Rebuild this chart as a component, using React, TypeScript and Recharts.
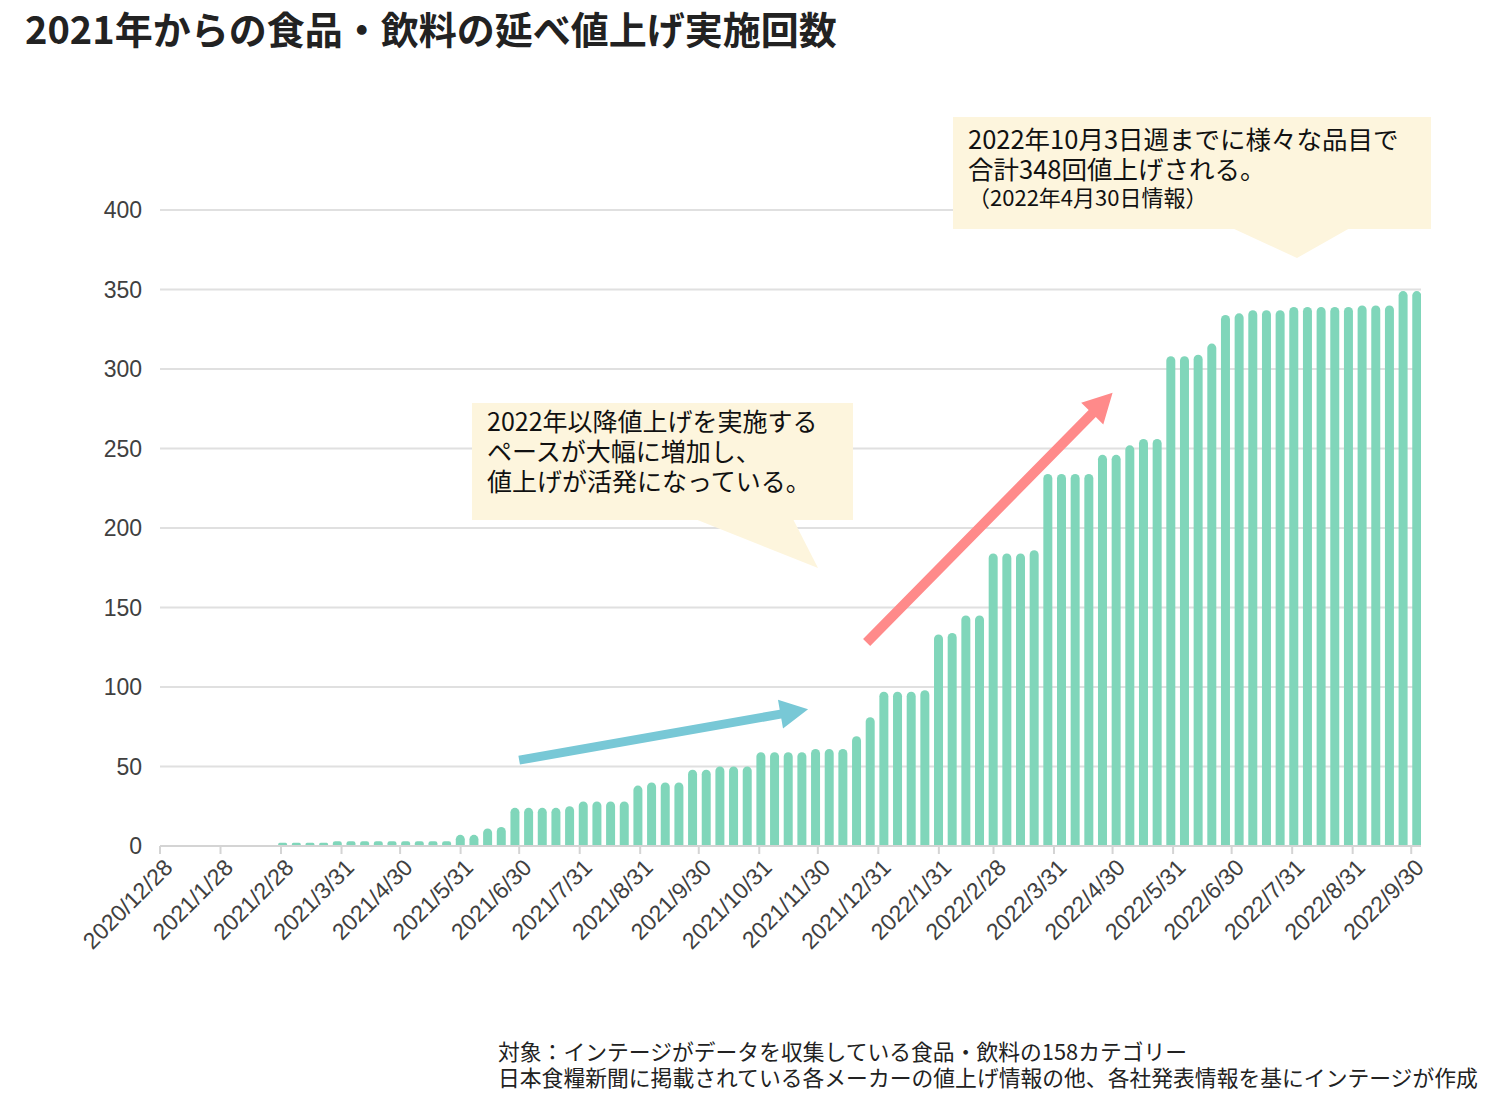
import React from 'react';
import { BarChart, Bar, XAxis, YAxis, CartesianGrid, ReferenceLine } from 'recharts';

// ---- data ----
const WEEK_START = '2020-12-28'; // Monday of first week
const WEEKLY_COUNTS = [
  0, 0, 0, 0, 0, 0, 0, 0, 0,
  2, 2, 2, 2,
  3, 3, 3, 3, 3, 3, 3, 3, 3,
  7, 7, 11, 12,
  24, 24, 24, 24, 25,
  28, 28, 28, 28,
  38, 40, 40, 40,
  48, 48, 50, 50, 50,
  59, 59, 59, 59,
  61, 61, 61, 69, 81,
  97, 97, 97, 98,
  133, 134, 145, 145,
  184, 184, 184, 186,
  234, 234, 234, 234,
  246, 246, 252, 256, 256,
  308, 308, 309, 316,
  334, 335, 337, 337, 337,
  339, 339, 339, 339, 339,
  340, 340, 340, 349, 349,
];
const X_TICK_LABELS = [
  '2020/12/28', '2021/1/28', '2021/2/28', '2021/3/31', '2021/4/30', '2021/5/31',
  '2021/6/30', '2021/7/31', '2021/8/31', '2021/9/30', '2021/10/31', '2021/11/30',
  '2021/12/31', '2022/1/31', '2022/2/28', '2022/3/31', '2022/4/30', '2022/5/31',
  '2022/6/30', '2022/7/31', '2022/8/31', '2022/9/30',
];
const Y_TICKS = [0, 50, 100, 150, 200, 250, 300, 350, 400];
const X_DOMAIN_END = '2022/10/5';

const TITLE = '2021年からの食品・飲料の延べ値上げ実施回数';
const NOTE_1 = ['2022年以降値上げを実施する', 'ペースが大幅に増加し、', '値上げが活発になっている。'];
const NOTE_2 = ['2022年10月3日週までに様々な品目で', '合計348回値上げされる。'];
const NOTE_2_SUB = '（2022年4月30日情報）';
const FOOTNOTES = [
  '対象：インテージがデータを収集している食品・飲料の158カテゴリー',
  '日本食糧新聞に掲載されている各メーカーの値上げ情報の他、各社発表情報を基にインテージが作成',
];
// arrows in data coordinates: [startDate, startValue, endDate, endValue]
const BLUE_ARROW = ['2021/6/30', 54, '2021/11/25', 86];
const PINK_ARROW = ['2021/12/25', 128, '2022/4/30', 285];

// ---- helpers ----
const DAY = 86400000;
const parse = (s: string) => {
  const [y, m, d] = s.split(/[-/]/).map(Number);
  return Date.UTC(y, m - 1, d);
};
const T0 = parse(WEEK_START);
const dayOf = (s: string) => Math.round((parse(s) - T0) / DAY);

const data = WEEKLY_COUNTS.map((v, i) => ({ day: i * 7, count: v }));
const X_TICKS = X_TICK_LABELS.map(dayOf);
const labelByDay: Record<number, string> = {};
X_TICK_LABELS.forEach((l) => { labelByDay[dayOf(l)] = l; });

const AXIS_FONT = '"Liberation Sans", Arial, sans-serif';
const JP_FONT = '"Noto Sans CJK JP", "Noto Sans", sans-serif';

const XTick = (props: any) => {
  const { x, y, payload } = props;
  const ax = x + 14;
  const ay = y + 13;
  return (
    <text
      x={ax}
      y={ay}
      transform={`rotate(-45 ${ax} ${ay})`}
      textAnchor="end"
      fontSize={23}
      fill="#404040"
      fontFamily={AXIS_FONT}
    >
      {labelByDay[payload.value]}
    </text>
  );
};

const makeArrow = (color: string, shaft: number, headLen: number, headW: number) => (p: any) => {
  const { x1, y1, x2, y2 } = p;
  const dx = x2 - x1;
  const dy = y2 - y1;
  const len = Math.sqrt(dx * dx + dy * dy);
  const ux = dx / len;
  const uy = dy / len;
  const nx = -uy;
  const ny = ux;
  const bx = x2 - ux * headLen;
  const by = y2 - uy * headLen;
  const s = shaft / 2;
  const h = headW / 2;
  const pts = [
    [x1 + nx * s, y1 + ny * s],
    [bx + nx * s, by + ny * s],
    [bx + nx * h, by + ny * h],
    [x2, y2],
    [bx - nx * h, by - ny * h],
    [bx - nx * s, by - ny * s],
    [x1 - nx * s, y1 - ny * s],
  ]
    .map((q) => q.join(','))
    .join(' ');
  return <polygon points={pts} fill={color} />;
};

const BOX_FILL = '#FDF5DD';

export default function App() {
  return (
    <div style={{ position: 'absolute', left: 0, top: 0, width: 1498, height: 1107, background: '#fff' }}>
      <BarChart
        width={1498}
        height={1107}
        data={data}
        margin={{ top: 210, right: 77, bottom: 201, left: 0 }}
      >
        <CartesianGrid vertical={false} stroke="#e0e0e0" strokeWidth={2} />
        <XAxis
          dataKey="day"
          type="number"
          domain={[0, dayOf(X_DOMAIN_END)]}
          ticks={X_TICKS}
          interval={0}
          height={60}
          tick={<XTick />}
          tickSize={8}
          tickMargin={2}
          stroke="#d4d4d4"
          strokeWidth={2}
          allowDataOverflow
        />
        <YAxis
          type="number"
          domain={[0, 400]}
          ticks={Y_TICKS}
          width={160}
          axisLine={false}
          tickLine={false}
          tickMargin={12}
          tick={{ fontSize: 23, fill: '#404040', fontFamily: AXIS_FONT }}
        />
        <Bar dataKey="count" fill="#80D6BA" barSize={9} radius={[4.5, 4.5, 0, 0]} isAnimationActive={false} />
        <ReferenceLine
          segment={[
            { x: dayOf(BLUE_ARROW[0] as string), y: BLUE_ARROW[1] as number },
            { x: dayOf(BLUE_ARROW[2] as string), y: BLUE_ARROW[3] as number },
          ]}
          ifOverflow="visible"
          shape={makeArrow('#78C8D6', 9, 28, 29)}
        />
        <ReferenceLine
          segment={[
            { x: dayOf(PINK_ARROW[0] as string), y: PINK_ARROW[1] as number },
            { x: dayOf(PINK_ARROW[2] as string), y: PINK_ARROW[3] as number },
          ]}
          ifOverflow="visible"
          shape={makeArrow('#FF8A8A', 10, 29, 31)}
        />
      </BarChart>
      <svg
        width={1498}
        height={1107}
        style={{ position: 'absolute', left: 0, top: 0, pointerEvents: 'none' }}
      >
        <text x={25} y={44} fontSize={38} fontWeight={700} fill="#222" fontFamily={JP_FONT}>
          {TITLE}
        </text>

        <rect x={472} y={403} width={381} height={117} fill={BOX_FILL} />
        <polygon points="695,519 793,519 818,568" fill={BOX_FILL} />
        {NOTE_1.map((t, i) => (
          <text key={i} x={487} y={431 + i * 30} fontSize={25} fill="#111" fontFamily={JP_FONT}>
            {t}
          </text>
        ))}

        <rect x={953} y={117} width={478} height={112} fill={BOX_FILL} />
        <polygon points="1232,228 1350,228 1297,258" fill={BOX_FILL} />
        {NOTE_2.map((t, i) => (
          <text key={i} x={968} y={149 + i * 30} fontSize={25.5} fill="#111" fontFamily={JP_FONT}>
            {t}
          </text>
        ))}
        <text x={968} y={206} fontSize={22} fill="#111" fontFamily={JP_FONT}>
          {NOTE_2_SUB}
        </text>

        {FOOTNOTES.map((t, i) => (
          <text key={i} x={498} y={1060 + i * 26} fontSize={21.8} fill="#222" fontFamily={JP_FONT}>
            {t}
          </text>
        ))}
      </svg>
    </div>
  );
}
